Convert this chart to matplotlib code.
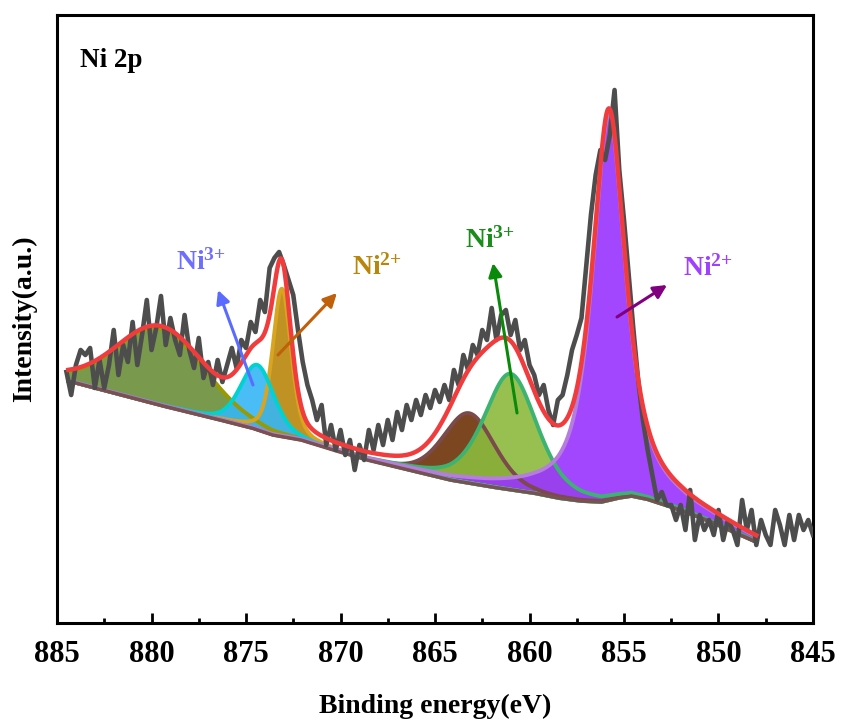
import numpy as np
import matplotlib

matplotlib.use("Agg")
import matplotlib.pyplot as plt

plt.rcParams["font.family"] = ["Liberation Serif", "DejaVu Serif"]
plt.rcParams["font.weight"] = "bold"
plt.rcParams["mathtext.fontset"] = "custom"
plt.rcParams["mathtext.rm"] = "Liberation Serif"
plt.rcParams["mathtext.default"] = "rm"

# ---------------------------------------------------------------------------
# raw Ni 2p spectrum, 0.25 eV steps from 884.5 eV down to 845.0 eV (a.u.)
# ---------------------------------------------------------------------------
raw_start, raw_step = 884.5, -0.25
raw_counts = [
    251, 228, 258, 273, 268, 275, 235, 263, 235, 258,
    293, 248, 278, 261, 301, 258, 288, 323, 273, 295,
    327, 278, 305, 283, 268, 308, 273, 255, 285, 245,
    261, 238, 263, 241, 258, 275, 255, 283, 275, 301,
    291, 323, 311, 355, 365, 371, 358, 343, 328, 293,
    261, 238, 223, 203, 218, 178, 198, 173, 193, 168,
    183, 153, 178, 163, 193, 173, 198, 178, 203, 183,
    211, 193, 218, 203, 223, 208, 228, 215, 233, 221,
    238, 223, 253, 238, 268, 253, 278, 268, 293, 283,
    315, 283, 308, 313, 288, 303, 273, 283, 258, 248,
    228, 238, 213, 198, 223, 228, 248, 273, 288, 305,
    356, 408, 448, 473, 463, 488, 533, 453, 403, 348,
    293, 243, 203, 173, 148, 123, 131, 118, 118, 103,
    118, 93, 133, 83, 108, 93, 103, 88, 113, 83,
    103, 93, 78, 123, 93, 113, 78, 103, 88, 78,
    113, 98, 78, 108, 83, 108, 93, 103, 88,
]

# background of the fit (knots)
bg_energy = [884.4, 882.0, 879.6, 877.0, 874.7, 873.6, 872.1, 870.4, 868.6,
             866.4, 864.2, 862.0, 859.8, 858.5, 857.3, 856.2, 855.3, 854.6,
             853.8, 853.0, 852.0, 850.5, 849.3, 848.0]
bg_value = [242, 230, 218, 206, 195, 188, 183, 173, 163,
            153, 143, 136, 130, 125, 122, 121, 125, 127,
            124, 119, 113, 102, 92, 81]

# fitted components (pseudo-Voigt): centre, height, FWHM, Lorentz fraction
comp_names = ["sat 2p1/2", "Ni3+ 2p1/2", "Ni2+ 2p1/2", "sat 2p3/2", "Ni3+ 2p3/2", "Ni2+ 2p3/2"]
comp_center = [879.5, 874.4, 873.1, 863.2, 861.0, 855.8]
comp_height = [77, 65, 148, 70, 116, 386]
comp_fwhm = [5.5, 2.1, 1.15, 3.2, 3.3, 2.1]
comp_eta = [0.15, 0.3, 0.4, 0.25, 0.45, 0.8]

fill_colors = ["#6b8e3a", "#36b6f5", "#b8860b", "#6e3208", "#8cba3e", "#9933ff"]
line_colors = ["#999900", "#00d2d2", "#d9a520", "#7b4a4a", "#3cb371", "#b57edc"]
fill_order = [0, 2, 1, 3, 4, 5]


def pseudo_voigt(x, c, h, w, eta):
    u = (x - c) / w
    return h * ((1 - eta) * np.exp(-4 * np.log(2) * u**2) + eta / (1 + 4 * u**2))


raw_e = raw_start + raw_step * np.arange(len(raw_counts))
fit_e = np.linspace(884.4, 848.0, 1000)
bg = np.interp(fit_e, bg_energy[::-1], bg_value[::-1])
peaks = [pseudo_voigt(fit_e, c, h, w, eta)
         for c, h, w, eta in zip(comp_center, comp_height, comp_fwhm, comp_eta)]
envelope = bg + np.sum(peaks, axis=0)

fig = plt.figure(figsize=(8.41, 7.25), dpi=100)
ax = fig.add_axes([0.0678, 0.1407, 0.8989, 0.8386])

for i in fill_order:
    ax.fill_between(fit_e, bg, bg + peaks[i], color=fill_colors[i], alpha=0.9,
                    lw=0, zorder=1)
for i in fill_order:
    ax.plot(fit_e, bg + peaks[i], color=line_colors[i], lw=2.8, zorder=2)
ax.plot(fit_e, bg, color="#7a5050", lw=2.5, zorder=2)

ax.plot(raw_e, raw_counts, color="#4d4d4d", lw=3.3, zorder=3)
ax.plot(fit_e, envelope, color="#f03c3c", lw=3.2, zorder=4)

# annotations: label, colour, text position, arrow tail, arrow head
labels = [r"Ni$^{3{+}}$", r"Ni$^{2{+}}$", r"Ni$^{3{+}}$", r"Ni$^{2{+}}$"]
label_colors = ["#6f6fff", "#b8860b", "#1a8c1a", "#a040ff"]
arrow_colors = ["#5a6cff", "#c0600a", "#0a8a0a", "#800080"]
text_pos = [(877.4, 361), (868.1, 356), (862.1, 383), (850.55, 355)]
arrow_tail = [(874.63, 238), (873.31, 268), (860.66, 210), (855.37, 306)]
arrow_head = [(876.48, 333), (870.19, 330), (861.93, 360), (852.72, 338)]

for lab, tc, ac, tp, at, ah in zip(labels, label_colors, arrow_colors,
                                   text_pos, arrow_tail, arrow_head):
    ax.text(tp[0], tp[1], lab, color=tc, fontsize=20, fontweight="bold",
            ha="center", va="center", zorder=6)
    ax.annotate("", xy=ah, xytext=at, zorder=6,
                arrowprops=dict(arrowstyle="-|>", color=ac, lw=2.2,
                                mutation_scale=20, shrinkA=0, shrinkB=0))

ax.text(0.03, 0.925, "Ni 2p", transform=ax.transAxes, fontsize=19.5,
        fontweight="bold", ha="left", va="center")

ax.set_xlim(885, 845)
ax.set_ylim(0, 608)
ax.set_xticks(np.arange(885, 844, -5))
ax.set_xticks(np.arange(882.5, 845, -5), minor=True)
ax.set_yticks([])
ax.tick_params(axis="x", which="major", direction="in", length=7, width=2,
               labelsize=22, pad=12, top=False)
ax.tick_params(axis="x", which="minor", direction="in", length=3.5, width=2,
               top=False)
for sp in ax.spines.values():
    sp.set_linewidth(2.2)

ax.set_xlabel("Binding energy(eV)", fontsize=20, fontweight="bold", labelpad=18)
ax.set_ylabel("Intensity(a.u.)", fontsize=20, fontweight="bold", labelpad=14)

fig.savefig("out.png", dpi=100)
